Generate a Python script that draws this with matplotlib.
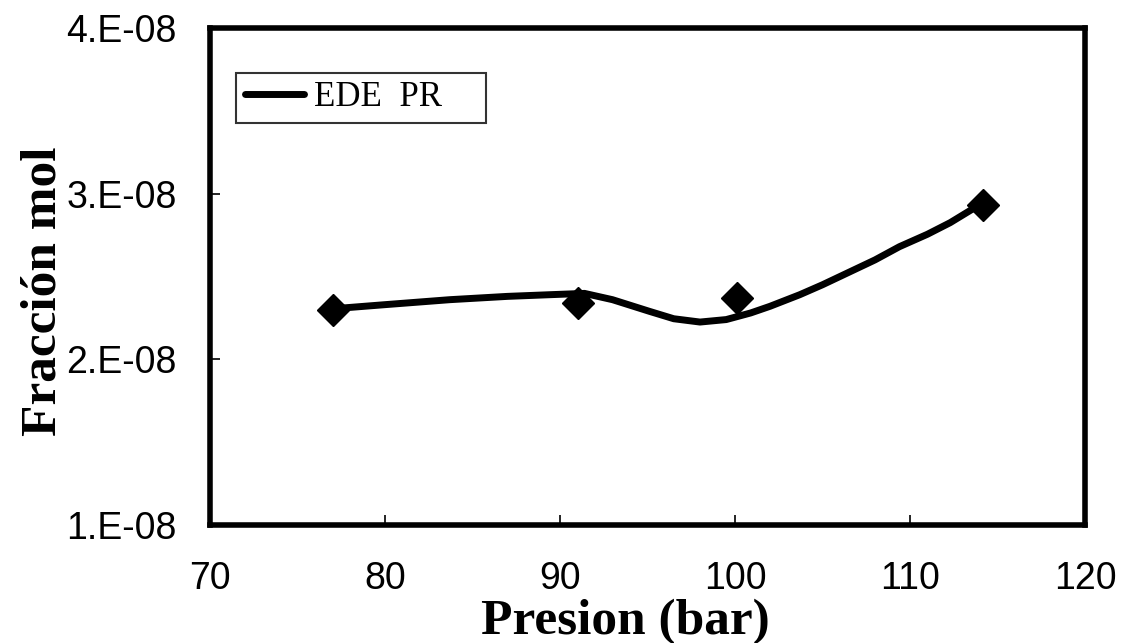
import numpy as np
import matplotlib
matplotlib.use("Agg")
import matplotlib.pyplot as plt

# Datos experimentales (diamantes)
presion_exp = [77.0, 91.0, 100.1, 114.2]
fraccion_exp = [2.30e-8, 2.34e-8, 2.37e-8, 2.93e-8]

# Curva calculada con la ecuacion de estado Peng-Robinson
presion_pr = [77.0, 80.0, 83.7, 87.0, 89.4, 91.4, 93.0, 95.1, 96.5, 98.0,
              99.5, 100.9, 102.0, 103.7, 105.0, 106.6, 108.0, 109.4, 111.0, 112.3, 113.7]
fraccion_pr = [2.305e-8, 2.33e-8, 2.36e-8, 2.38e-8, 2.39e-8, 2.398e-8, 2.36e-8, 2.29e-8,
               2.245e-8, 2.225e-8, 2.24e-8, 2.28e-8, 2.32e-8, 2.39e-8, 2.45e-8, 2.53e-8,
               2.60e-8, 2.68e-8, 2.755e-8, 2.825e-8, 2.915e-8]

xticks = [70, 80, 90, 100, 110, 120]
yticks = [1e-8, 2e-8, 3e-8, 4e-8]
ytick_labels = ["1.E-08", "2.E-08", "3.E-08", "4.E-08"]

fig = plt.figure(figsize=(11.25, 6.43), dpi=100)
ax = fig.add_axes([0.1867, 0.1835, 0.7777, 0.773])

ax.plot(presion_pr, fraccion_pr, color="black", linewidth=5, solid_capstyle="round",
        solid_joinstyle="round", label="EDE  PR    ", zorder=2)
ax.plot(presion_exp, fraccion_exp, linestyle="none", marker="D", markersize=16,
        color="black", zorder=3)

ax.set_xlim(70, 120)
ax.set_ylim(1e-8, 4e-8)
ax.set_xticks(xticks)
ax.set_xticklabels([str(t) for t in xticks])
ax.set_yticks(yticks)
ax.set_yticklabels(ytick_labels)

for s in ax.spines.values():
    s.set_linewidth(4)
ax.tick_params(direction="in", length=7, width=1.2, labelsize=27)
ax.tick_params(axis="y", pad=24)
ax.tick_params(axis="x", pad=26)
for lab in ax.get_xticklabels() + ax.get_yticklabels():
    lab.set_family("Liberation Sans")

ax.set_xlabel("Presion (bar)", family="Liberation Serif", fontweight="bold",
              fontsize=37, labelpad=1)
ax.xaxis.label.set_x(0.475)
ax.set_ylabel("Fracción mol", family="Liberation Serif", fontweight="bold",
              fontsize=37, labelpad=0)
ax.yaxis.label.set_y(0.47)

leg = ax.legend(loc="upper left", bbox_to_anchor=(0.03, 0.91), frameon=True,
                fancybox=False, prop={"family": "Liberation Serif", "size": 25},
                handlelength=1.7, borderpad=0.25, handletextpad=0.3, borderaxespad=0)
leg.get_frame().set_edgecolor("black")
leg.get_frame().set_linewidth(1.5)

fig.savefig("out.png", dpi=100)
